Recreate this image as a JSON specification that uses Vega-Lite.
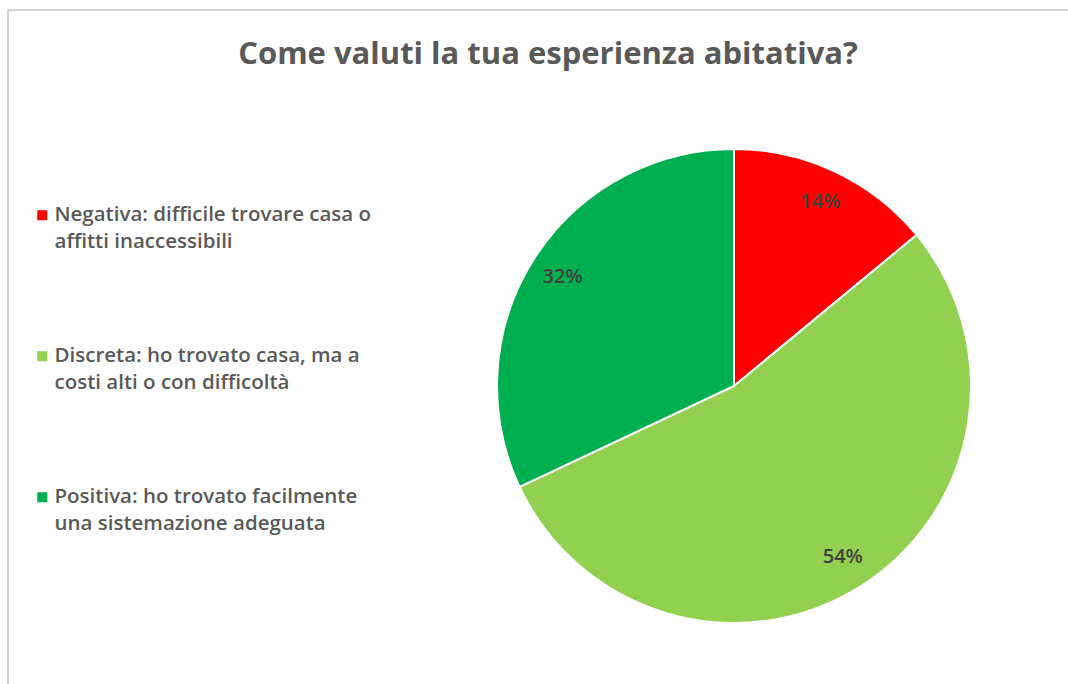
{
  "$schema": "https://vega.github.io/schema/vega-lite/v6.json",
  "width": 1452,
  "height": 752,
  "autosize": {"type": "none"},
  "padding": {"left": 8, "top": 10, "right": 0, "bottom": 0},
  "background": "white",
  "view": {"stroke": "#c4c4c4", "strokeWidth": 1.5},
  "config": {"font": "Open Sans", "style": {"guide-label": {"lineHeight": 27}}},
  "title": {
    "text": "Come valuti la tua esperienza abitativa?",
    "font": "Open Sans",
    "fontSize": 31,
    "fontWeight": "bold",
    "color": "#595959",
    "anchor": "middle",
    "frame": "group",
    "dx": -186,
    "offset": -85,
    "baseline": "alphabetic"
  },
  "data": {
    "values": [
      {"categoria": "Negativa: difficile trovare casa o|affitti inaccessibili", "percentuale": 14, "ordine": 1, "etichetta": "14%"},
      {"categoria": "Discreta: ho trovato casa, ma a|costi alti o con difficoltà", "percentuale": 54, "ordine": 2, "etichetta": "54%"},
      {"categoria": "Positiva: ho trovato facilmente|una sistemazione adeguata", "percentuale": 32, "ordine": 3, "etichetta": "32%"}
    ]
  },
  "encoding": {
    "theta": {"field": "percentuale", "type": "quantitative", "stack": true},
    "order": {"field": "ordine", "type": "quantitative"},
    "color": {
      "field": "categoria",
      "type": "nominal",
      "scale": {
        "domain": [
          "Negativa: difficile trovare casa o|affitti inaccessibili",
          "Discreta: ho trovato casa, ma a|costi alti o con difficoltà",
          "Positiva: ho trovato facilmente|una sistemazione adeguata"
        ],
        "range": ["#FF0000", "#92D050", "#00B050"]
      },
      "legend": {
        "orient": "none",
        "legendX": 24,
        "legendY": 195,
        "title": null,
        "symbolType": "square",
        "symbolSize": 100,
        "symbolStrokeWidth": 0,
        "labelExpr": "split(datum.label, '|')",
        "labelFont": "Open Sans",
        "labelFontSize": 20.5,
        "labelFontWeight": 600,
        "labelColor": "#595959",
        "labelLimit": 500,
        "labelOffset": 2,
        "rowPadding": 93,
        "padding": 0
      }
    }
  },
  "layer": [
    {"mark": {"type": "arc", "outerRadius": 237, "stroke": "white", "strokeWidth": 2}},
    {
      "mark": {"type": "text", "radius": 203, "fontSize": 20, "fontWeight": 600, "font": "Open Sans", "align": "center", "baseline": "middle"},
      "encoding": {"text": {"field": "etichetta"}, "color": {"value": "#404040"}}
    }
  ]
}
